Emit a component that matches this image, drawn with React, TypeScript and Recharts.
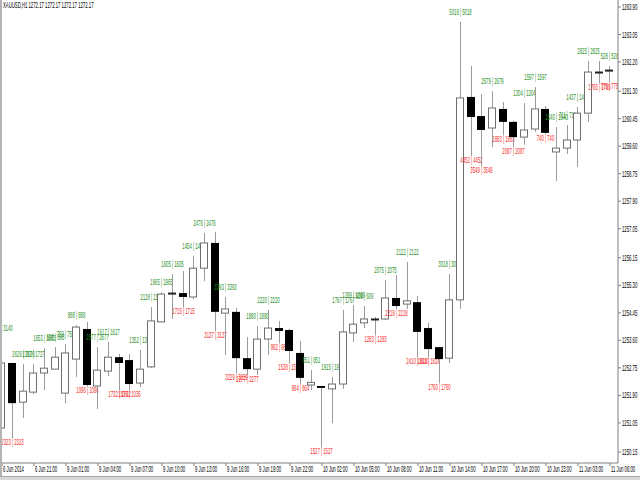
import React from 'react';
import { ComposedChart, Bar, XAxis, YAxis } from 'recharts';

const titleText = 'XAUUSD,H1  1272.17 1272.17 1272.17 1272.17';

const xTickLabels = [
  '6 Jun 2014', '6 Jun 21:00', '9 Jun 01:00', '9 Jun 04:00', '9 Jun 07:00',
  '9 Jun 10:00', '9 Jun 13:00', '9 Jun 16:00', '9 Jun 19:00', '9 Jun 22:00',
  '10 Jun 02:00', '10 Jun 05:00', '10 Jun 08:00', '10 Jun 11:00', '10 Jun 14:00',
  '10 Jun 17:00', '10 Jun 20:00', '10 Jun 23:00', '11 Jun 03:00', '11 Jun 06:00',
];

const yTickLabels = [
  '1263.90', '1263.05', '1262.20', '1261.30', '1260.45', '1259.60', '1258.75',
  '1257.90', '1257.05', '1256.15', '1255.30', '1254.45', '1253.60', '1252.75',
  '1251.90', '1251.05', '1250.15',
];

const openP = [
  1250.89, 1252.90, 1251.69, 1252.00, 1252.59, 1252.71, 1251.97, 1253.02, 1253.95, 1252.19,
  1252.65, 1253.08, 1252.99, 1252.28, 1252.78, 1254.17, 1255.03, 1255.06, 1254.94, 1255.83,
  1256.61, 1254.44, 1254.48, 1253.05, 1252.71, 1253.64, 1253.98, 1253.92, 1253.21, 1252.22,
  1252.19, 1252.10, 1252.25, 1253.83, 1254.14, 1254.26, 1254.26, 1254.91, 1254.72, 1254.78,
  1253.98, 1253.39, 1253.05, 1254.85, 1261.12, 1260.53, 1260.16, 1260.75, 1260.35, 1259.88,
  1260.13, 1260.75, 1259.42, 1259.54, 1259.79, 1260.62, 1261.89, 1261.95,
];

const highP = [
  1253.67, 1252.91, 1252.87, 1252.87, 1253.36, 1253.39, 1253.49, 1254.07, 1254.17, 1253.39,
  1253.55, 1253.18, 1253.18, 1253.30, 1254.63, 1255.09, 1255.65, 1255.74, 1256.21, 1256.92,
  1256.95, 1254.94, 1254.60, 1253.70, 1254.04, 1254.54, 1254.20, 1253.95, 1253.58, 1252.68,
  1252.19, 1252.47, 1254.54, 1254.69, 1254.66, 1254.32, 1255.46, 1255.62, 1256.02, 1254.97,
  1254.14, 1253.40, 1255.65, 1263.44, 1262.08, 1261.21, 1261.30, 1260.96, 1260.38, 1260.93,
  1261.43, 1260.84, 1260.19, 1260.25, 1260.81, 1262.23, 1262.23, 1262.08,
];

const lowP = [
  1250.15, 1250.58, 1251.20, 1251.94, 1252.06, 1252.70, 1251.66, 1252.47, 1252.19, 1251.48,
  1252.50, 1252.06, 1252.06, 1252.16, 1252.74, 1254.16, 1254.26, 1254.63, 1254.88, 1255.43,
  1253.89, 1253.15, 1252.59, 1252.53, 1252.53, 1253.15, 1253.52, 1252.90, 1252.25, 1252.06,
  1250.30, 1251.04, 1252.10, 1253.55, 1253.98, 1253.76, 1254.23, 1254.57, 1254.57, 1253.08,
  1253.08, 1252.28, 1252.90, 1254.57, 1259.30, 1258.99, 1259.57, 1259.94, 1259.57, 1259.64,
  1260.04, 1259.98, 1258.52, 1259.36, 1258.96, 1260.35, 1261.55, 1261.58,
];

const closeP = [
  1252.90, 1251.66, 1252.03, 1252.59, 1252.74, 1253.08, 1253.21, 1254.01, 1252.22, 1252.68,
  1253.08, 1252.90, 1252.25, 1252.71, 1254.20, 1255.03, 1255.06, 1254.94, 1255.83, 1256.61,
  1254.48, 1254.57, 1253.05, 1252.71, 1253.64, 1253.98, 1253.89, 1253.27, 1252.44, 1252.30,
  1252.13, 1252.25, 1253.86, 1254.10, 1254.26, 1254.23, 1254.91, 1254.66, 1254.82, 1253.86,
  1253.33, 1253.02, 1254.85, 1261.09, 1260.50, 1260.10, 1260.78, 1260.35, 1259.88, 1260.10,
  1260.75, 1260.01, 1259.54, 1259.79, 1260.62, 1261.89, 1261.86, 1261.92,
];

// volume labels drawn above highs (green) and below lows (red)
const upVol: (number | null)[] = [
  3140, null, 2626, 1727, 1653, 698, 759, 888, null, 2677,
  1617, null, null, 1352, 2128, 1965, 1605, null, 1454, 2476,
  null, 3393, null, null, 1880, 2220, null, null, null, 851,
  null, 1915, 1767, 1289, 609, null, 2075, null, 2122, null,
  null, null, 3018, 5018, null, null, 2679, null, null, 1304,
  1597, null, 1640, 711, 1437, 2825, null, 528,
];

const downVol: (number | null)[] = [
  null, 2323, null, null, null, null, null, null, 1096, null,
  null, 1732, 1036, null, null, null, null, 1715, null, null,
  3137, null, 3229, 2277, null, null, 982, 1538, 864, null,
  1527, null, null, null, null, 1283, null, 2218, null, 2410,
  1824, 1760, null, null, 4452, 3549, null, 1883, 2087, null,
  null, 740, null, null, null, null, 1765, 775,
];

const data = openP.map((o, i) => ({
  i,
  open: o,
  high: highP[i],
  low: lowP[i],
  close: closeP[i],
  up: upVol[i],
  down: downVol[i],
}));

const FONT = "'Liberation Sans', Arial, sans-serif";
const SX = 0.5;
const GREEN = '#1f8f1f';
const RED = '#f52a2a';

const Candle = (props: any) => {
  const { x, y, width, height, index } = props;
  const d = props.payload && props.payload.open !== undefined ? props.payload : data[index];
  if (x == null || y == null) return null;
  const top = Math.min(y, y + height);
  const bot = Math.max(y, y + height);
  const range = d.high - d.low;
  const toY = (p: number) => top + ((d.high - p) / range) * (bot - top);
  const cx = Math.floor(x + width / 2) + 0.5;
  const yo = toY(d.open);
  const yc = toY(d.close);
  const bTop = Math.min(yo, yc);
  const bBot = Math.max(yo, yc);
  const bull = d.close >= d.open;
  const half = 4;
  let body;
  if (bBot - bTop < 1.5) {
    body = <rect x={cx - half - 0.5} y={(bTop + bBot) / 2 - 1} width={half * 2} height={2} fill="#222" />;
  } else if (bull) {
    body = (
      <rect x={cx - half} y={bTop} width={half * 2 - 1} height={bBot - bTop}
        fill="#ffffff" stroke="#6e6e6e" strokeWidth={1} />
    );
  } else {
    body = <rect x={cx - half - 0.5} y={bTop} width={half * 2} height={bBot - bTop} fill="#000000" />;
  }
  return (
    <g>
      <line x1={cx} x2={cx} y1={top} y2={bot} stroke="#9a9a9a" strokeWidth={1} />
      {body}
      {d.up != null && (
        <text transform={`translate(${cx},${top - 7}) scale(${SX},1)`} textAnchor="middle"
          fontSize={8.5} fontFamily={FONT} fill={GREEN}>{`${d.up} | ${d.up}`}</text>
      )}
      {d.down != null && (
        <text transform={`translate(${cx},${bot + 7}) scale(${SX},1)`} textAnchor="middle"
          fontSize={8.5} fontFamily={FONT} fill={RED}>{`${d.down} | ${d.down}`}</text>
      )}
    </g>
  );
};

const XTick = (props: any) => {
  const { x, y, payload } = props;
  const label = xTickLabels[Math.round(payload.value / 3)];
  return (
    <text transform={`translate(${x + 1},${y + 6}) scale(${SX},1)`} textAnchor="start"
      fontSize={8.5} fontFamily={FONT} fill="#000">{label}</text>
  );
};

const YTick = (props: any) => {
  const { x, y, payload } = props;
  const label = yTickLabels.find((t) => Math.abs(Number(t) - payload.value) < 0.001) ?? '';
  return (
    <text transform={`translate(${x + 1},${y + 3}) scale(${SX},1)`} textAnchor="start"
      fontSize={8.5} fontFamily={FONT} fill="#000">{label}</text>
  );
};

const xTicks = xTickLabels.map((_, k) => k * 3);
const yTicks = yTickLabels.map((t) => Number(t));

export default function App() {
  return (
    <div style={{ position: 'fixed', left: 0, top: 0, width: 640, height: 480, background: '#fff', overflow: 'hidden' }}>
      <ComposedChart width={640} height={480} data={data}
        margin={{ top: 0, right: 0, bottom: 0, left: 0 }}>
        <XAxis dataKey="i" type="number" domain={[-0.1875, 57.75]} allowDataOverflow
          ticks={xTicks} interval={0} height={17} tickSize={3} tickMargin={0}
          axisLine={{ stroke: '#808080' }} tickLine={{ stroke: '#808080' }} tick={<XTick />} />
        <YAxis orientation="right" type="number" domain={[1249.81, 1264.116]} allowDataOverflow
          ticks={yTicks} interval={0} width={22} tickSize={3} tickMargin={0}
          axisLine={{ stroke: '#808080' }} tickLine={{ stroke: '#808080' }} tick={<YTick />} />
        <Bar dataKey={(d: any) => [d.low, d.high]} barSize={8} shape={<Candle />}
          isAnimationActive={false} />
      </ComposedChart>
      <div style={{
        position: 'absolute', left: 3, top: 0, fontFamily: FONT, fontSize: 8.5, lineHeight: '10px',
        transform: `scaleX(${SX})`, transformOrigin: '0 0', whiteSpace: 'nowrap', color: '#000',
      }}>{titleText}</div>
      <div style={{ position: 'absolute', left: 0, top: 0, width: 2, height: 480, background: '#b4b4b4' }} />
      <div style={{ position: 'absolute', left: 0, top: 476, width: 640, height: 4, background: '#d8d8d8', borderTop: '1px solid #a8a8a8' }} />
    </div>
  );
}
